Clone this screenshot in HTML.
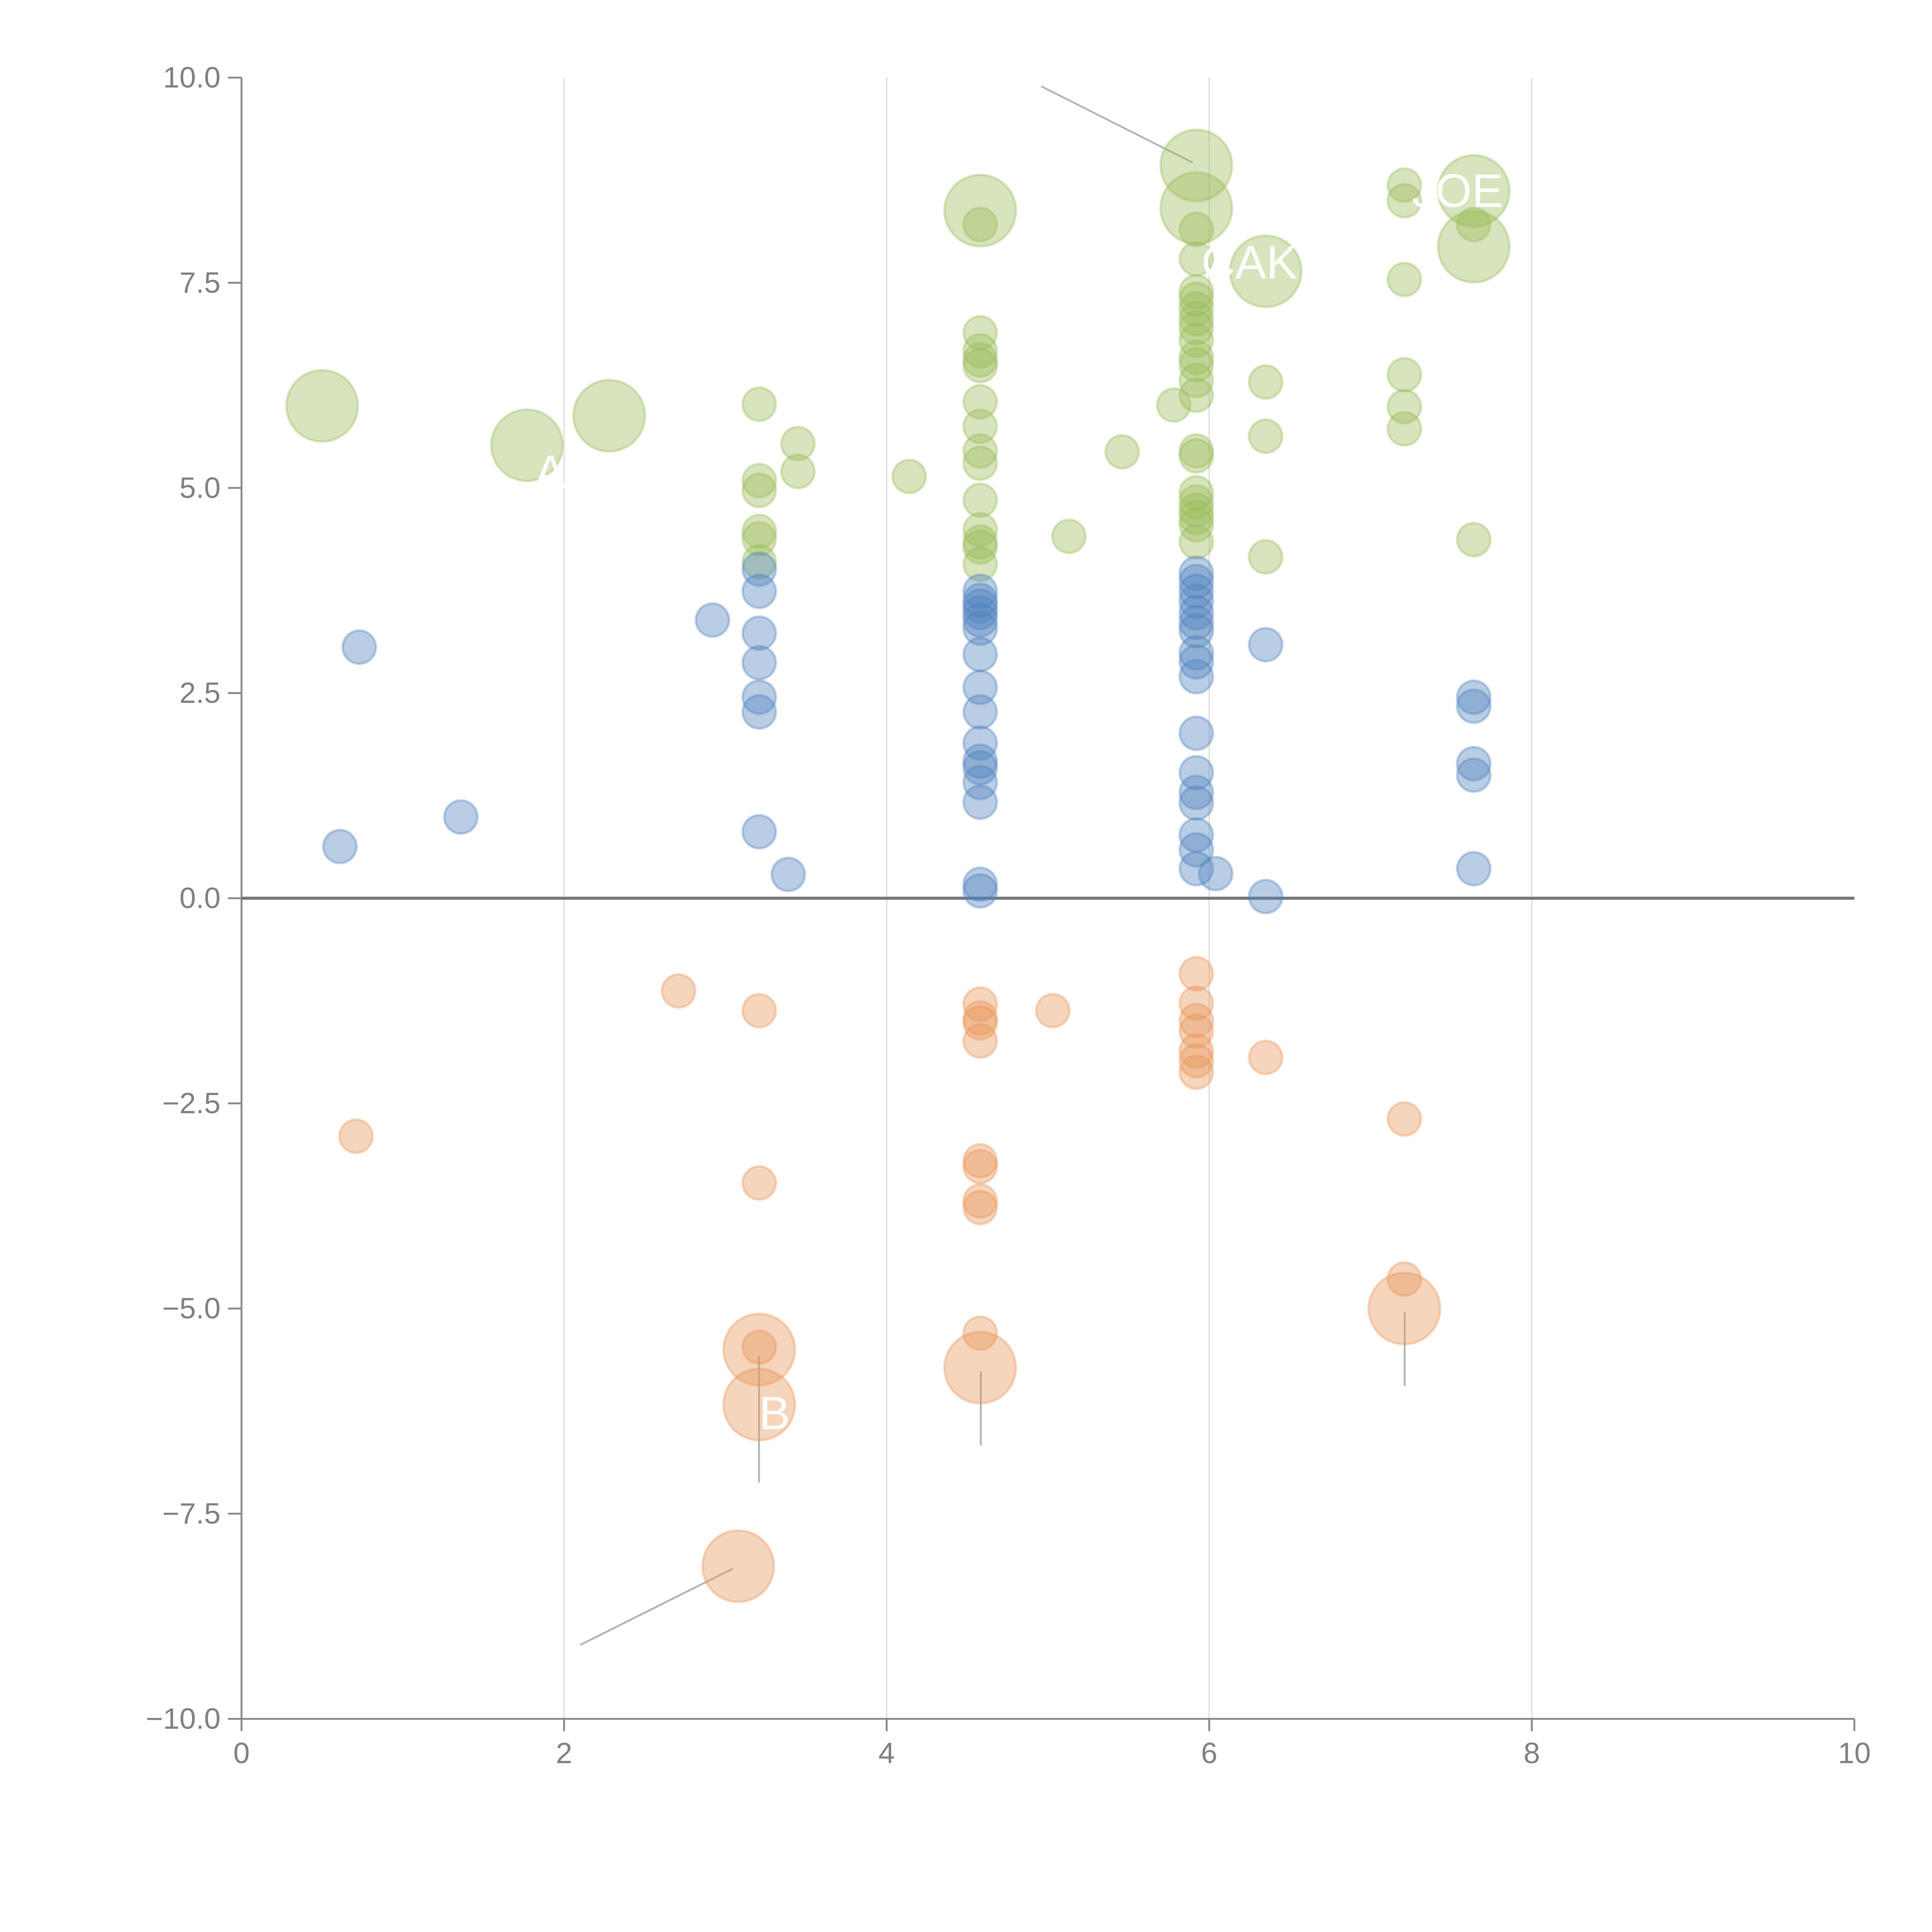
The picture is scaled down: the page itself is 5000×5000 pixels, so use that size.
<!DOCTYPE html>
<html><head><meta charset="utf-8"><style>html,body{margin:0;padding:0;background:#fff}svg{display:block}</style></head>
<body>
<svg id="chart" width="5000" height="5000" viewBox="0 0 1568 1568" xmlns="http://www.w3.org/2000/svg" font-family="Liberation Sans, sans-serif">
<g id="grid"></g>
<g id="axes"></g>
<g id="leaders"></g>
<g id="marks"></g>
<g id="labels"></g>
</svg>
<script>
const xTicks = [0,2,4,6,8,10];
const yTicks = [10,7.5,5,2.5,0,-2.5,-5,-7.5,-10];
const yTickLabels = ["10.0","7.5","5.0","2.5","0.0","\u22122.5","\u22125.0","\u22127.5","\u221210.0"];

const greenX = [0.5,1.77,2.28,4.58,5.92,5.92,6.35,7.64,7.64, 3.21,3.21,3.21,3.21,3.21,3.21,3.45,3.45,4.14, 4.58,4.58,4.58,4.58,4.58,4.58,4.58,4.58,4.58,4.58,4.58,4.58,4.58,4.58, 5.13,5.46,5.78, 5.92,5.92,5.92,5.92,5.92,5.92,5.92,5.92,5.92,5.92,5.92,5.92,5.92,5.92,5.92,5.92,5.92,5.92,5.92,5.92, 6.35,6.35,6.35, 7.21,7.21,7.21,7.21,7.21,7.21, 7.64,7.64];
const greenY = [6.0,5.52,5.88,8.38,8.93,8.41,7.64,8.62,7.94, 6.02,5.09,4.97,4.47,4.38,4.10,5.54,5.2,5.14, 8.21,6.89,6.67,6.56,6.49,6.05,5.75,5.45,5.30,4.85,4.49,4.34,4.28,4.07, 4.41,5.44,6.01, 8.15,7.79,7.39,7.3,7.18,7.06,6.95,6.8,6.59,6.5,6.31,6.13,5.45,5.39,4.94,4.83,4.73,4.64,4.55,4.34, 6.29,5.63,4.16, 8.69,8.5,7.54,6.38,5.99,5.72, 8.21,4.37];
const greenSize = [2,2,2,2,2,2,2,2,2, 1,1,1,1,1,1,1,1,1, 1,1,1,1,1,1,1,1,1,1,1,1,1,1, 1,1,1, 1,1,1,1,1,1,1,1,1,1,1,1,1,1,1,1,1,1,1,1, 1,1,1, 1,1,1,1,1,1, 1,1];

const blueX = [0.73,0.61,1.36,2.92, 3.21,3.21,3.21,3.21,3.21,3.21,3.21, 3.39, 4.58,4.58,4.58,4.58,4.58,4.58,4.58,4.58,4.58,4.58,4.58,4.58,4.58,4.58,4.58,4.58, 5.92,5.92,5.92,5.92,5.92,5.92,5.92,5.92,5.92,5.92,5.92,5.92,5.92,5.92,5.92,5.92,5.92, 6.04, 6.35,6.35, 7.64,7.64,7.64,7.64,7.64];
const blueY = [3.06,0.63,0.99,3.39, 4.01,3.74,3.23,2.87,2.45,2.27,0.81, 0.29, 3.74,3.63,3.56,3.48,3.39,3.29,2.97,2.57,2.27,1.89,1.67,1.59,1.41,1.17,0.17,0.09, 3.96,3.86,3.74,3.62,3.48,3.36,3.26,2.99,2.88,2.70,2.01,1.53,1.29,1.16,0.77,0.59,0.36, 0.30, 3.09,0.02, 2.45,2.34,1.64,1.50,0.36];

const orangeX = [3.21,3.21,3.08,4.58,7.21, 0.71,2.71, 3.21,3.21,3.21, 4.58,4.58,4.58,4.58,4.58,4.58,4.58,4.58,4.58, 5.03, 5.92,5.92,5.92,5.92,5.92,5.92,5.92, 6.35, 7.21,7.21];
const orangeY = [-5.5,-6.17,-8.14,-5.72,-5.0, -2.9,-1.13, -1.37,-3.47,-5.47, -1.29,-1.46,-1.52,-1.74,-3.2,-3.27,-3.69,-3.77,-5.3, -1.37, -0.92,-1.28,-1.49,-1.62,-1.86,-1.98,-2.12, -1.94, -2.69,-4.64];
const orangeSize = [2,2,2,2,2, 1,1, 1,1,1, 1,1,1,1,1,1,1,1,1, 1, 1,1,1,1,1,1,1, 1, 1,1];

const L=196,R=1505,T=63,B=1395;
const sx = v => L + (v-0)/(10-0)*(R-L);
const sy = v => B - (v+10)/20*(B-T);
const NS="http://www.w3.org/2000/svg";
function mk(tag, attrs, parent){const e=document.createElementNS(NS,tag);for(const k in attrs)e.setAttribute(k,attrs[k]);parent.appendChild(e);return e;}
const grid=document.getElementById('grid'),axes=document.getElementById('axes'),marks=document.getElementById('marks'),leaders=document.getElementById('leaders'),labels=document.getElementById('labels');

xTicks.forEach(v=>{
  if(v>0&&v<10){const g=mk('line',{x1:sx(v),x2:sx(v),y1:T,y2:B,stroke:'#dcdcdc','stroke-width':1},grid);
  
  }
  const t=mk('line',{x1:sx(v),x2:sx(v),y1:B,y2:B+10,stroke:'#888','stroke-width':1.5},axes);
  
  
  const tx=mk('text',{x:sx(v),y:B+36,'text-anchor':'middle','font-size':24,fill:'#808080'},axes);
  tx.textContent=String(v);
  
  
});
yTicks.forEach((v,i)=>{
  const t=mk('line',{x1:L-11,x2:L,y1:sy(v),y2:sy(v),stroke:'#888','stroke-width':1.5},axes);
  
  
  const tx=mk('text',{x:L-17,y:sy(v)+8,'text-anchor':'end','font-size':24,fill:'#808080'},axes);
  tx.textContent=yTickLabels[i];
  
  
});
const ya=mk('line',{x1:L,x2:L,y1:T,y2:B,stroke:'#888','stroke-width':1.5},axes);


const xa=mk('line',{x1:L,x2:R,y1:B,y2:B,stroke:'#888','stroke-width':1.5},axes);


const zl=mk('line',{x1:L,x2:R,y1:sy(0),y2:sy(0),stroke:'#777','stroke-width':2.5},axes);



const leaderData=[[845,70,968,132],[471,1335,595,1273],[616,1100,616,1203],[796,1113,796,1173],[1140,1065,1140,1125]];
leaderData.forEach(d=>{
  const l=mk('line',{x1:d[0],y1:d[1],x2:d[2],y2:d[3],stroke:'#b3b3b3','stroke-width':1.5},leaders);
  
  
});

function series(xs,ys,sizes,color,name){
  xs.forEach((x,i)=>{
    const s=sizes?sizes[i]:1;
    const c=mk('circle',{cx:sx(x),cy:sy(ys[i]),r:s===2?29:13.5,fill:color,'fill-opacity':0.4,stroke:color,'stroke-opacity':0.35,'stroke-width':2},marks);
    
    
  });
}
series(greenX,greenY,greenSize,'#9bbb59','green-bubble');
series(blueX,blueY,null,'#4f81bd','blue-bubble');
series(orangeX,orangeY,orangeSize,'#e8955a','orange-bubble');

const labelData=[["JOE",1146,168],["CAK",975,226],["B",616,1160],["A",434,396]];
labelData.forEach(d=>{
  const t=mk('text',{x:d[1],y:d[2],'font-size':38,fill:'#fff'},labels);
  t.textContent=d[0];
  
  
});
</script>
</body></html>
